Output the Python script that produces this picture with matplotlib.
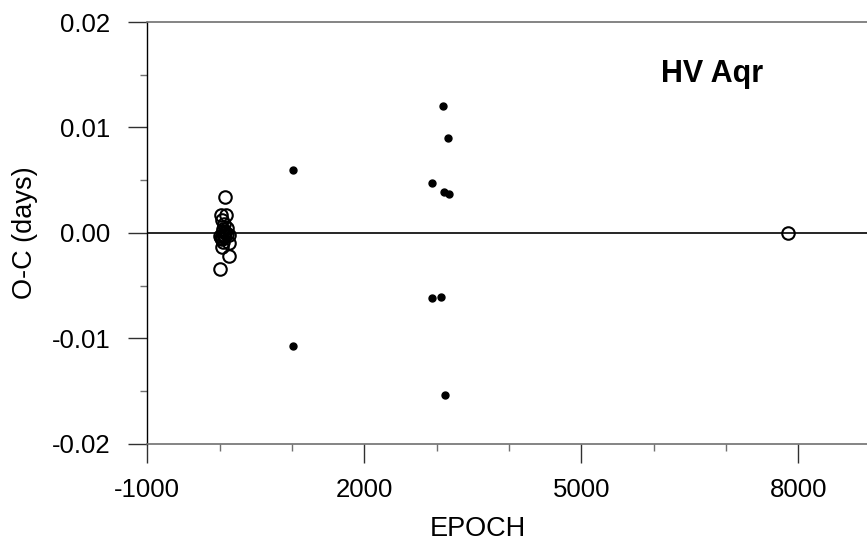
import matplotlib
matplotlib.use("Agg")
import matplotlib.pyplot as plt
from matplotlib.ticker import MultipleLocator, FixedLocator, FormatStrFormatter

plt.rcParams['font.family'] = ['Liberation Sans', 'DejaVu Sans']
plt.rcParams['axes.unicode_minus'] = False

# Open circles (primary minima / precise timings)
open_epoch = [74, 19, 88, 30, 60, 50, 40, 70, 10, 20, 35, 55, 80, 45, 65, 95,
              129, 129, 124, 5, 30, 100, 7855]
open_oc = [0.0034, 0.0017, 0.0017, 0.0012, 0.0008, 0.0004, 0.0002, 0.0001,
           -0.0003, -0.0005, -0.0006, -0.0002, 0.0000, -0.0009, -0.0004, -0.0001,
           -0.0002, -0.0010, -0.0022, -0.0034, -0.0013, 0.0005, 0.0000]

# Filled dots
fill_epoch = [1014, 1014, 3087, 3152, 2935, 3105, 3166, 2935, 3064, 3110]
fill_oc = [0.0060, -0.0107, 0.0120, 0.0090, 0.0047, 0.0039, 0.0037,
           -0.0062, -0.0061, -0.0154]

x_major = [-1000, 2000, 5000, 8000]
y_major = [-0.02, -0.01, 0.00, 0.01, 0.02]

fig = plt.figure(figsize=(8.67, 5.48), dpi=100)
W, H = 867, 548
left, right = 147.3, 867
top, bottom = 22, 443.7
ax = fig.add_axes([left / W, (H - bottom) / H, (right - left) / W, (bottom - top) / H])

ax.axhline(0, color='black', lw=1.2, zorder=1)
ax.plot(open_epoch, open_oc, linestyle='none', marker='o', ms=9, mfc='none',
        mec='black', mew=1.5, zorder=3)
ax.plot(fill_epoch, fill_oc, linestyle='none', marker='o', ms=5, mfc='black',
        mec='black', zorder=3)

ax.set_xlim(-1000, 8950)
ax.set_ylim(-0.02, 0.02)

ax.xaxis.set_major_locator(FixedLocator(x_major))
ax.xaxis.set_minor_locator(MultipleLocator(1000))
ax.yaxis.set_major_locator(FixedLocator(y_major))
ax.yaxis.set_minor_locator(MultipleLocator(0.005))
ax.yaxis.set_major_formatter(FormatStrFormatter('%.2f'))

ax.spines['right'].set_visible(False)
ax.spines['left'].set_color('black')
ax.spines['left'].set_linewidth(1.0)
for s in ['top', 'bottom']:
    ax.spines[s].set_color('#707070')
    ax.spines[s].set_linewidth(1.2)

ax.tick_params(axis='both', which='major', direction='out', length=13.5, width=1.0,
               color='#303030', labelsize=18.5)
ax.tick_params(axis='both', which='minor', direction='out', length=5, width=1.0,
               color='#707070')
ax.tick_params(axis='x', which='major', pad=11)
ax.tick_params(axis='y', which='major', pad=13)

ax.set_xlabel('EPOCH', fontsize=19.5)
ax.xaxis.set_label_coords(0.4595, -0.172)
ax.set_ylabel('O-C (days)', fontsize=19.5)
ax.yaxis.set_label_coords(-0.152, 0.5)

ax.text(0.785, 0.877, 'HV Aqr', transform=ax.transAxes, fontsize=22,
        fontweight='bold', ha='center', va='center')

fig.savefig('out.png', dpi=100)
